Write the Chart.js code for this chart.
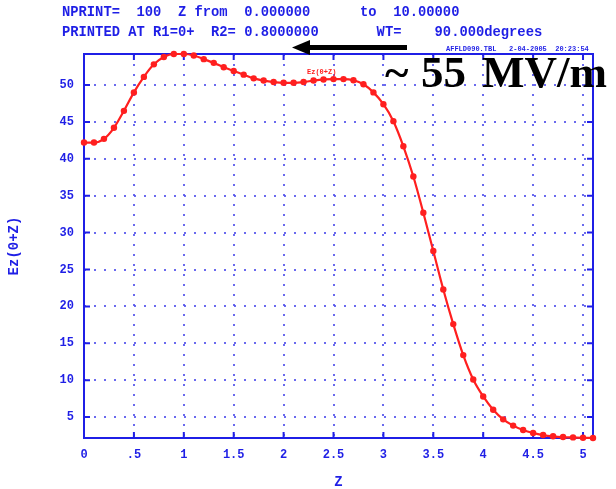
<!DOCTYPE html>
<html>
<head>
<meta charset="utf-8">
<title>Ez(0+Z)</title>
<script src="https://cdn.jsdelivr.net/npm/chart.js@4.4.1/dist/chart.umd.min.js"></script>
<style>
  html, body { margin: 0; padding: 0; background: #fff; }
  #wrap { width: 616px; height: 489px; }
</style>
</head>
<body>
<div id="wrap"><canvas id="field-chart" width="616" height="489"></canvas></div>
<script>
'use strict';

// #pragma Data

// z position (one point every 0.1)
let zValues = [
  0.0, 0.1, 0.2, 0.3, 0.4, 0.5, 0.6, 0.7, 0.8, 0.9,
  1.0, 1.1, 1.2, 1.3, 1.4, 1.5, 1.6, 1.7, 1.8, 1.9,
  2.0, 2.1, 2.2, 2.3, 2.4, 2.5, 2.6, 2.7, 2.8, 2.9,
  3.0, 3.1, 3.2, 3.3, 3.4, 3.5, 3.6, 3.7, 3.8, 3.9,
  4.0, 4.1, 4.2, 4.3, 4.4, 4.5, 4.6, 4.7, 4.8, 4.9,
  5.0, 5.1,
];

// on-axis field Ez(0+Z)
let ezValues = [
  42.2, 42.2, 42.7, 44.2, 46.5, 49.0, 51.1, 52.8, 53.8, 54.2,
  54.2, 54.0, 53.5, 53.0, 52.4, 51.9, 51.4, 50.9, 50.6, 50.4,
  50.3, 50.3, 50.4, 50.6, 50.75, 50.8, 50.8, 50.65, 50.1, 49.0,
  47.4, 45.1, 41.7, 37.6, 32.7, 27.5, 22.3, 17.6, 13.4, 10.1,
  7.8, 6.0, 4.7, 3.85, 3.25, 2.85, 2.57, 2.4, 2.3, 2.25,
  2.2, 2.17,
];

let zTicks = [0, 0.5, 1, 1.5, 2, 2.5, 3, 3.5, 4, 4.5, 5];
let zTickLabels = ['0', '.5', '1', '1.5', '2', '2.5', '3', '3.5', '4', '4.5', '5'];
let ezTicks = [5, 10, 15, 20, 25, 30, 35, 40, 45, 50];

let headerLines = [
  'NPRINT=  100  Z from  0.000000      to  10.00000',
  'PRINTED AT R1=0+  R2= 0.8000000       WT=    90.000degrees',
];
let stampText = 'AFFLD090.TBL   2-04-2005  20:23:54';
let curveLabel = 'Ez(0+Z)';

// #pragma Styles

let BLUE = '#1f1fe6';
let DOT_BLUE = 'rgba(80, 80, 235, 0.85)';
let RED = '#ff1f1f';
let MONO = '"Liberation Mono", "DejaVu Sans Mono", monospace';

// #pragma Helpers

function toPoints() {
  let pts = [];
  for (let i = 0; i < zValues.length; i++) {
    pts.push({ x: zValues[i], y: ezValues[i] });
  }
  return pts;
}

function fixedTicks(values) {
  return function (scale) {
    scale.ticks = values.map(v => ({ value: v }));
  };
}

// frame round the plot area with short ticks pointing inwards
let framePlugin = {
  id: 'frame',
  beforeDatasetsDraw(chart) {
    let { ctx, chartArea: a, scales } = chart;
    let len = 6;
    ctx.save();
    ctx.strokeStyle = BLUE;
    ctx.lineWidth = 2;
    ctx.strokeRect(a.left, a.top, a.right - a.left, a.bottom - a.top);
    ctx.beginPath();
    zTicks.forEach(v => {
      let x = scales.x.getPixelForValue(v);
      ctx.moveTo(x, a.bottom); ctx.lineTo(x, a.bottom - len);
      ctx.moveTo(x, a.top); ctx.lineTo(x, a.top + len);
    });
    ezTicks.forEach(v => {
      let y = scales.y.getPixelForValue(v);
      ctx.moveTo(a.left, y); ctx.lineTo(a.left + len, y);
      ctx.moveTo(a.right, y); ctx.lineTo(a.right - len, y);
    });
    ctx.stroke();
    ctx.restore();
  },
};

// run header, file stamp, curve label, arrow and field note
let textPlugin = {
  id: 'notes',
  afterDraw(chart) {
    let ctx = chart.ctx;
    ctx.save();
    ctx.textBaseline = 'middle';
    ctx.textAlign = 'left';

    ctx.fillStyle = BLUE;
    ctx.font = 'bold 13.8px ' + MONO;
    ctx.fillText(headerLines[0], 62, 13);
    ctx.fillText(headerLines[1], 62, 33);

    ctx.font = 'bold 7px ' + MONO;
    ctx.fillText(stampText, 446, 49);

    ctx.fillStyle = RED;
    ctx.fillText(curveLabel, 307, 72);

    // arrow pointing back at the peak
    ctx.fillStyle = '#000';
    ctx.fillRect(306, 45, 101, 5);
    ctx.beginPath();
    ctx.moveTo(292, 47.5);
    ctx.lineTo(310, 40);
    ctx.lineTo(310, 55);
    ctx.closePath();
    ctx.fill();

    ctx.textBaseline = 'alphabetic';
    ctx.font = 'bold 45px "Liberation Serif", "DejaVu Serif", serif';
    ctx.fillText('~', 385, 87);
    ctx.fillText('55', 421, 87);
    ctx.fillText('MV/m', 482, 87);
    ctx.restore();
  },
};

// #pragma Chart

let chartContext = document.getElementById('field-chart').getContext('2d');

let chartConfig = {
  type: 'line',
  data: {
    datasets: [{
      label: curveLabel,
      data: toPoints(),
      borderColor: RED,
      backgroundColor: RED,
      borderWidth: 2.2,
      pointRadius: 3.2,
      pointBorderWidth: 0,
      pointBackgroundColor: RED,
      cubicInterpolationMode: 'monotone',
      clip: false,
    }],
  },
  options: {
    responsive: false,
    animation: false,
    devicePixelRatio: 1,
    layout: { padding: { top: 54, right: 23, bottom: 0, left: 0 } },
    plugins: {
      legend: { display: false },
      tooltip: { enabled: false },
    },
    scales: {
      x: {
        type: 'linear',
        min: 0,
        max: 5.1,
        afterBuildTicks: fixedTicks(zTicks),
        afterFit(scale) { scale.height = 51; },
        grid: { color: DOT_BLUE, lineWidth: 2, drawTicks: false },
        border: { display: false, dash: [2, 8] },
        ticks: {
          color: BLUE,
          padding: 10,
          maxRotation: 0,
          autoSkip: false,
          font: { family: MONO, size: 12, weight: 'bold' },
          callback: (v) => zTickLabels[zTicks.indexOf(v)] ?? '',
        },
        title: {
          display: true,
          text: 'Z',
          color: BLUE,
          padding: { top: 0, bottom: 0 },
          font: { family: MONO, size: 14, weight: 'bold', lineHeight: 1 },
        },
      },
      y: {
        min: 2.17,
        max: 54.2,
        afterBuildTicks: fixedTicks(ezTicks),
        afterFit(scale) { scale.width = 84; },
        grid: { color: DOT_BLUE, lineWidth: 2, drawTicks: false },
        border: { display: false, dash: [2, 8] },
        ticks: {
          color: BLUE,
          padding: 10,
          autoSkip: false,
          font: { family: MONO, size: 12, weight: 'bold' },
        },
        title: {
          display: true,
          text: curveLabel,
          color: BLUE,
          padding: { top: 7, bottom: 0 },
          font: { family: MONO, size: 14, weight: 'bold', lineHeight: 1 },
        },
      },
    },
  },
  plugins: [framePlugin, textPlugin],
};

let fieldChart = new Chart(chartContext, chartConfig);
</script>
</body>
</html>
